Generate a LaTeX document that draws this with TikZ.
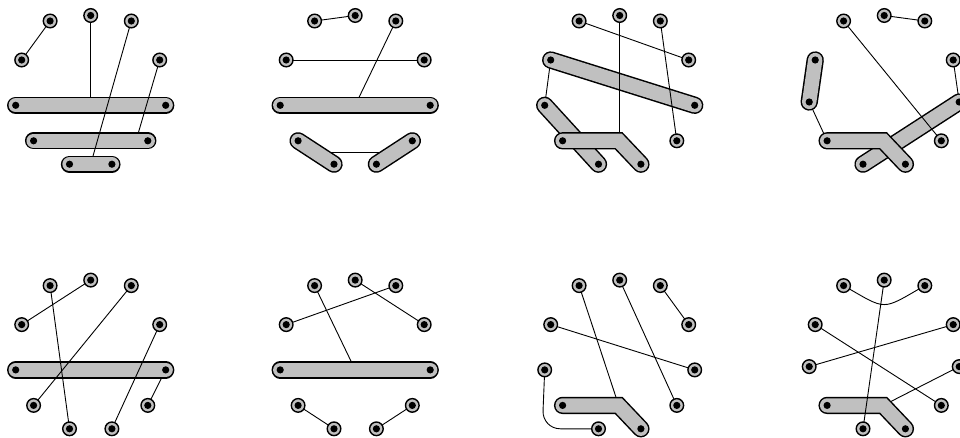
\documentclass[tikz,border=0pt]{standalone}
\definecolor{ptgray}{RGB}{192,192,192}
\tikzset{
  pt/.style={circle, fill=ptgray, draw=black, line width=1.4pt, minimum size=13.6pt, inner sep=0pt,
    path picture={\fill[black] (path picture bounding box.center) circle (3.6pt);}},
  bd/.style={circle, fill=black, minimum size=7.2pt, inner sep=0pt},
  barout/.style={line width=17.3pt, draw=black, line cap=round, line join=miter},
  barin/.style={line width=14.3pt, draw=ptgray, line cap=round, line join=miter},
  conn/.style={draw=black, line width=0.9pt},
}
\newcommand\hyperbar[1]{\draw[barout] #1; \draw[barin] #1;}
\newcommand\panelpts[2]{%
  \coordinate (#1-0) at (0,15.5);
  \coordinate (#1-1) at (-40.6,21);
  \coordinate (#1-10) at (40.6,21);
  \coordinate (#1-2) at (-69,60);
  \coordinate (#1-9) at (69,60);
  \coordinate (#1-3) at (-75,{105.3+#2});
  \coordinate (#1-8) at (75,{105.3+#2});
  \coordinate (#1-4) at (-57.1,140.8);
  \coordinate (#1-7) at (57.1,140.8);
  \coordinate (#1-5) at (-21.2,164.2);
  \coordinate (#1-6) at (21.2,164.2);
  \coordinate (#1-k) at (-1,140.8);
}
\newcommand\circpts[2]{\foreach \i in {#2} {\node[pt] (#1-n\i) at (#1-\i) {};}}
\newcommand\dotpts[2]{\foreach \i in {#2} {\node[bd] (#1-d\i) at (#1-\i) {};}}
\begin{document}
\begin{tikzpicture}[x=1pt,y=-1pt]
\useasboundingbox (0,0) rectangle (960,438);
\clip (0,0) rectangle (960,438);
% ---------- panel 1
\begin{scope}[shift={(90.7,0)}]
\panelpts{a}{0}
\coordinate (a-m1) at (0,105.3);
\coordinate (a-m2) at (45.3,140.8);
\coordinate (a-m3) at (0,164.2);
\draw[conn] (a-0) -- (a-m1);
\hyperbar{(a-3) -- (a-8)}
\draw[conn] (a-9) -- (a-m2);
\hyperbar{(a-4) -- (a-7)}
\draw[conn] (a-10) -- (a-m3);
\hyperbar{(a-5) -- (a-6)}
\draw[conn] (a-1) -- (a-2);
\circpts{a}{0,1,2,9,10}
\dotpts{a}{3,8,4,7,5,6}
\end{scope}
% ---------- panel 2
\begin{scope}[shift={(355.2,0)}]
\panelpts{b}{0}
\coordinate (b-m1) at (0,105.3);
\coordinate (b-m2) at (-39.15,152.5);
\coordinate (b-m3) at (39.15,152.5);
\draw[conn] (b-10) -- (b-m1);
\draw[conn] (b-m2) -- (b-m3);
\hyperbar{(b-3) -- (b-8)}
\hyperbar{(b-4) -- (b-5)}
\hyperbar{(b-6) -- (b-7)}
\draw[conn] (b-1) -- (b-0);
\draw[conn] (b-2) -- (b-9);
\circpts{b}{0,1,10,2,9}
\dotpts{b}{3,8,4,5,6,7}
\end{scope}
% ---------- panel 3
\begin{scope}[shift={(619.7,0)}]
\panelpts{c}{0}
\coordinate (c-m1) at (0,140.8);
\draw[conn] (c-2) -- (c-3);
\hyperbar{(c-2) -- (c-8)}
\hyperbar{(c-3) -- (c-5)}
\draw[conn] (c-0) -- (c-m1);
\hyperbar{(c-4) -- (c-k) -- (c-6)}
\draw[conn] (c-10) -- (c-7);
\draw[conn] (c-1) -- (c-9);
\circpts{c}{0,1,10,9,7}
\dotpts{c}{2,8,3,5,4,6}
\end{scope}
% ---------- panel 4
\begin{scope}[shift={(884.2,0)}]
\panelpts{d}{-3.3}
\draw[conn] (d-3) -- (d-4);
\draw[conn] (d-9) -- (d-8);
\hyperbar{(d-2) -- (d-3)}
\hyperbar{(d-5) -- (d-8)}
\hyperbar{(d-4) -- (d-k) -- (d-6)}
\draw[conn] (d-1) -- (d-7);
\draw[conn] (d-0) -- (d-10);
\circpts{d}{0,1,10,9,7}
\dotpts{d}{2,3,5,8,4,6}
\end{scope}
% ---------- panel 5
\begin{scope}[shift={(90.7,264.6)}]
\panelpts{e}{0}
\draw[conn] (e-8) -- (e-7);
\hyperbar{(e-3) -- (e-8)}
\draw[conn] (e-1) -- (e-5);
\draw[conn] (e-0) -- (e-2);
\draw[conn] (e-10) -- (e-4);
\draw[conn] (e-9) -- (e-6);
\circpts{e}{0,1,2,4,5,6,7,9,10}
\dotpts{e}{3,8}
\end{scope}
% ---------- panel 6
\begin{scope}[shift={(355.2,264.6)}]
\panelpts{f}{0}
\coordinate (f-m1) at (0,105.3);
\draw[conn] (f-1) -- (f-m1);
\hyperbar{(f-3) -- (f-8)}
\draw[conn] (f-2) -- (f-10);
\draw[conn] (f-0) -- (f-9);
\draw[conn] (f-4) -- (f-5);
\draw[conn] (f-6) -- (f-7);
\circpts{f}{0,1,2,4,5,6,7,9,10}
\dotpts{f}{3,8}
\end{scope}
% ---------- panel 7
\begin{scope}[shift={(619.7,264.6)}]
\panelpts{g}{0}
\coordinate (g-c) at (-77.4,164.2);
\draw[conn] (g-1) -- (g-k);
\hyperbar{(g-4) -- (g-k) -- (g-6)}
\draw[conn] (g-0) -- (g-7);
\draw[conn] (g-10) -- (g-9);
\draw[conn] (g-2) -- (g-8);
\draw[conn, rounded corners=18pt] (g-3) -- (g-c) -- (g-5);
\circpts{g}{0,1,2,3,5,7,8,9,10}
\dotpts{g}{4,6}
\end{scope}
% ---------- panel 8
\begin{scope}[shift={(884.2,264.6)}]
\panelpts{h}{-3.3}
\draw[conn] (h-8) -- (h-k);
\hyperbar{(h-4) -- (h-k) -- (h-6)}
\draw[conn] (h-0) -- (h-5);
\draw[conn] (h-2) -- (h-7);
\draw[conn] (h-3) -- (h-9);
\draw[conn] (h-1) .. controls (3.4,46.3) and (-3.4,46.3) .. (h-10);
\circpts{h}{0,1,2,3,5,7,8,9,10}
\dotpts{h}{4,6}
\end{scope}
\end{tikzpicture}
\end{document}
